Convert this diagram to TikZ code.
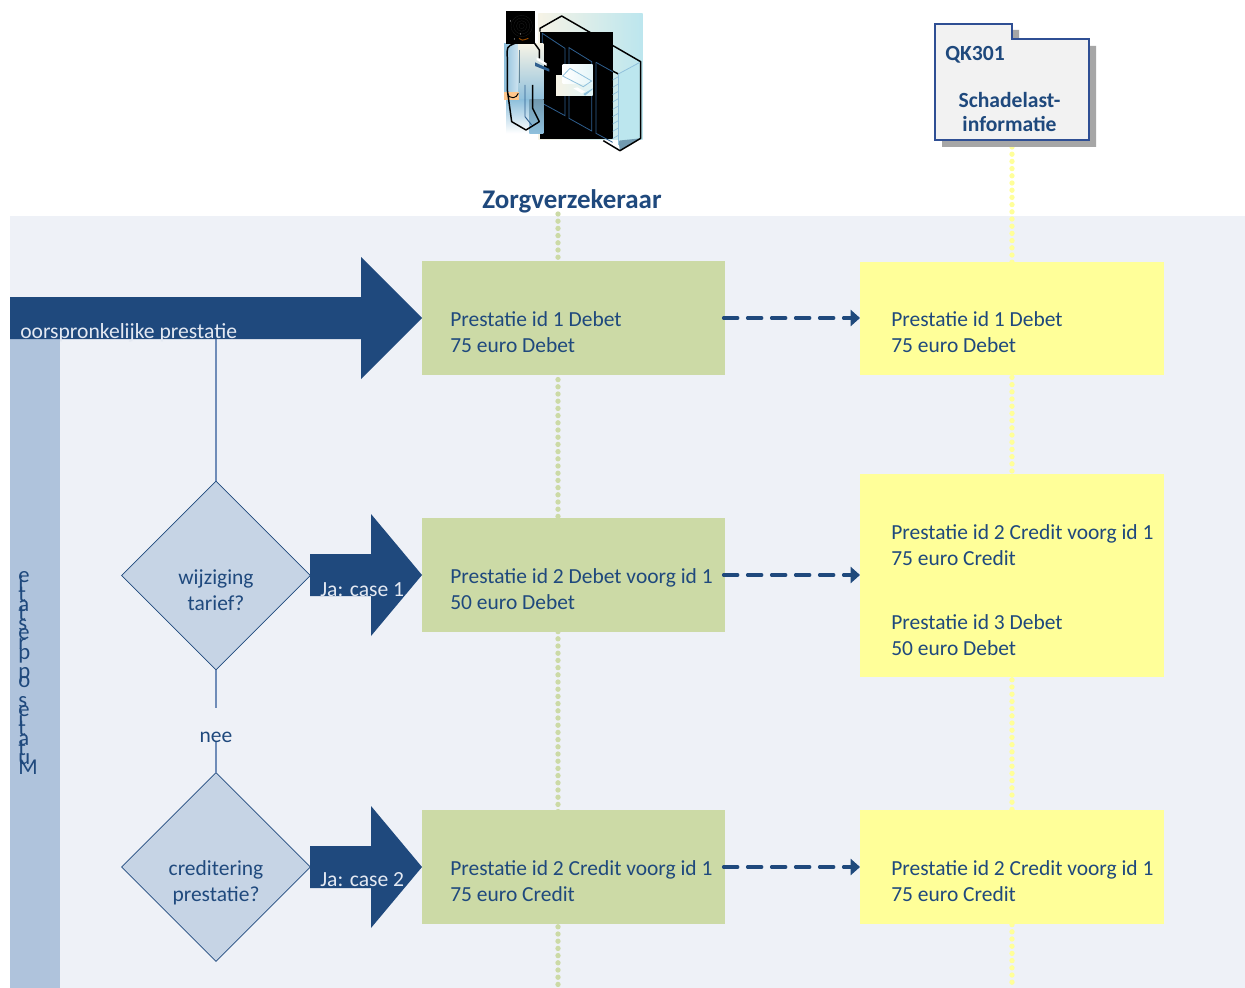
\documentclass[tikz,border=0pt]{standalone}
\usepackage{fontspec}
\setmainfont{Carlito}
\usetikzlibrary{shapes.geometric,arrows.meta}
\definecolor{navy}{HTML}{1F497D}
\definecolor{bgpanel}{HTML}{EEF1F7}
\definecolor{band}{HTML}{AFC3DC}
\definecolor{greenbox}{HTML}{CCDAA6}
\definecolor{yellowbox}{HTML}{FFFF99}
\definecolor{greendot}{HTML}{CCDAA6}
\definecolor{yellowdot}{HTML}{FFFF99}
\definecolor{diam}{HTML}{C6D4E5}
\definecolor{thinline}{HTML}{6F8CB8}
\definecolor{folderline}{HTML}{2F4F94}
\definecolor{armtext}{HTML}{E4E9F2}
\definecolor{skyc}{HTML}{BCE6EE}
\definecolor{cream}{HTML}{F6F3E6}
\definecolor{panelblue}{HTML}{2F5F8F}
\definecolor{bodyblue}{HTML}{8FC0DC}
\newcommand{\tl}[1]{\smash{#1}}
\tikzset{
 x=0.75pt,y=-0.75pt,
 greenb/.style={fill=greenbox,draw=none,minimum width=227.25pt,minimum height=85.5pt,inner sep=0,outer sep=0},
 yellowb/.style={fill=yellowbox,draw=none,minimum width=228pt,inner sep=0,outer sep=0},
 boxtext/.style={text=navy,font=\fontsize{16.1pt}{19.5pt}\selectfont,align=left,anchor=west,inner sep=0},
 decision/.style={diamond,aspect=1,fill=diam,draw=navy,line width=0.6pt,minimum width=141.5pt,minimum height=141.5pt,inner sep=0,outer sep=0,text=navy,align=center,font=\fontsize{16.1pt}{19.3pt}\selectfont},
 bigarrow/.style={fill=navy,draw=none},
 armlabel/.style={text=armtext,font=\fontsize{16.2pt}{19pt}\selectfont,anchor=west,inner sep=0},
 dashlink/.style={draw=navy,line width=2.6pt,line cap=round,dash pattern=on 10.5pt off 7.5pt,-{Triangle[length=7pt,width=12pt]},shorten <=-1pt},
 thin link/.style={draw=thinline,line width=0.8pt},
 greendots/.style={draw=greendot,line width=4pt,line cap=round,dash pattern=on 0pt off 5.4pt},
 yellowdots/.style={draw=yellowdot,line width=4pt,line cap=round,dash pattern=on 0pt off 5.4pt},
}
\begin{document}
\begin{tikzpicture}
\useasboundingbox (0,0) rectangle (1245,988);
\fill[white] (0,0) rectangle (1245,988);
\fill[bgpanel] (10,216) rectangle (1245,988);
\fill[band] (10,339) rectangle (60,988);

% lifelines
\coordinate (gtop) at (558,214); \coordinate (gbot) at (558,988);
\coordinate (ytop) at (1012,147); \coordinate (ybot) at (1012,988);
\draw[greendots] (gtop) -- (gbot);
\draw[yellowdots] (ytop) -- (ybot);

% boxes
\node[greenb] (g1) at (573.5,318) {};
\node[greenb] (g2) at (573.5,575) {};
\node[greenb] (g3) at (573.5,867) {};
\node[yellowb,minimum height=85pt] (y1) at (1012,318.5) {};
\node[yellowb,minimum height=152.25pt] (y2) at (1012,575.5) {};
\node[yellowb,minimum height=85.5pt] (y3) at (1012,867) {};

\node[boxtext] (t1) at (450,332) {Prestatie id 1 Debet\\75 euro Debet};
\node[boxtext] (t2) at (450,589) {Prestatie id 2 Debet voorg id 1\\50 euro Debet};
\node[boxtext] (t3) at (450,881) {Prestatie id 2 Credit voorg id 1\\75 euro Credit};
\node[boxtext] (t4) at (891,332) {Prestatie id 1 Debet\\75 euro Debet};
\node[boxtext] (t5) at (891,545) {Prestatie id 2 Credit voorg id 1\\75 euro Credit};
\node[boxtext] (t6) at (891,635) {Prestatie id 3 Debet\\50 euro Debet};
\node[boxtext] (t7) at (891,881) {Prestatie id 2 Credit voorg id 1\\75 euro Credit};

% dashed links
\draw[dashlink] (g1.east) -- (y1.west |- g1.east);
\draw[dashlink] (g2.east) -- (y2.west |- g2.east);
\draw[dashlink] (g3.east) -- (y3.west |- g3.east);

% decisions and thin connectors
\node[decision] (d1) at (216,575.5) {\mbox{}\\[13.5pt]wijziging\\tarief?};
\node[decision] (d2) at (216,867) {\mbox{}\\[15pt]creditering\\prestatie?};
\coordinate (a1base) at (216,339);
\coordinate (neetop) at (216,708);
\coordinate (neebot) at (216,741);
\draw[thin link] (a1base) -- (d1.north);
\draw[thin link] (d1.south) -- (neetop);
\draw[thin link] (neebot) -- (d2.north);
\node[text=navy,font=\fontsize{16.1pt}{19pt}\selectfont,inner sep=0] (nee) at (216,737) {nee};

% big arrows
\fill[bigarrow] (10,297) -- (361,297) -- (361,257) -- (422,318) -- (361,379) -- (361,339) -- (10,339) -- cycle;
\fill[bigarrow] (310,554) -- (371,554) -- (371,514) -- (422,575) -- (371,636) -- (371,596) -- (310,596) -- cycle;
\fill[bigarrow] (310,846) -- (371,846) -- (371,806) -- (422,867) -- (371,928) -- (371,888) -- (310,888) -- cycle;
\node[armlabel] (l1) at (20,333) {oorspronkelijke prestatie};
\node[armlabel] (l2) at (320,590) {Ja: case 1};
\node[armlabel] (l3) at (320,880) {Ja: case 2};

% side band label
\node[text=navy,align=left,anchor=north west,inner sep=0,font=\fontsize{17pt}{7.2pt}\selectfont] (side) at (18,582) {\tl{e}\\\tl{i}\\\tl{t}\\\tl{a}\\\tl{t}\\\tl{s}\\\tl{e}\\\tl{r}\\\tl{p}\\\tl{\mbox{}}\\\tl{p}\\\tl{o}\\\tl{\mbox{}}\\\tl{s}\\\tl{e}\\\tl{i}\\\tl{t}\\\tl{a}\\\tl{t}\\\tl{u}\\\tl{M}};

% title
\node[text=navy,font=\bfseries\fontsize{20.2pt}{24pt}\selectfont,inner sep=0] (title) at (572,201) {Zorgverzekeraar};

% folder
\fill[black!35] (942,30) -- (1019,30) -- (1019,46) -- (1096,46) -- (1096,147) -- (942,147) -- cycle;
\draw[draw=folderline,fill=black!5,line width=1.5pt] (935,24) -- (1012,24) -- (1012,39) -- (1089,39) -- (1089,140.5) -- (935,140.5) -- cycle;
\node[text=navy,font=\bfseries\fontsize{16.2pt}{18pt}\selectfont,anchor=west,inner sep=0] (qk) at (945,55) {QK301};
\node[text=navy,font=\bfseries\fontsize{16.2pt}{18pt}\selectfont,align=center,inner sep=0] (sl) at (1009.5,112) {Schadelast-\\informatie};

% server / person illustration (zoom coordinates: 3 units per pixel)
\begin{scope}[shift={(490,0)},x=0.25pt,y=-0.25pt]
\shade[left color=cream,right color=skyc] (145,40) rectangle (458,420);
\fill[skyc] (385,225) -- (452,185) -- (452,415) -- (390,452) -- cycle;
\fill[bodyblue!80!black] (385,422) -- (452,415) -- (390,452) -- cycle;
\fill[black] (150,97) rectangle (368,418);
\draw[black,line width=1.1pt,line join=round] (150,95) -- (150,85) -- (215,48) -- (452,185) -- (452,415) -- (390,452) -- (340,422);
\draw[black,line width=1.1pt] (368,213) -- (385,222);
\draw[bodyblue,line width=0.6pt] (385,222) -- (448,188);
\draw[bodyblue,line width=0.6pt] (385,222) -- (385,435);
\draw[panelblue,line width=0.6pt] (157,100) -- (225,145) -- (225,347) -- (157,310) -- cycle;
\draw[panelblue,line width=0.6pt] (237,143) -- (305,185) -- (305,393) -- (237,355) -- cycle;
\draw[panelblue,line width=0.6pt] (318,187) -- (368,215);
\draw[panelblue,line width=0.6pt] (318,187) -- (318,400) -- (368,427);
\foreach \yy in {240,262,284,306,328,350,372,394,416}{\draw[bodyblue,line width=0.5pt] (368,\yy) -- (385,\yy-10);}
\shade[left color=cream,right color=skyc!50!white] (198,228) rectangle (308,287);
\shade[left color=white,right color=skyc!40!white] (218,195) rectangle (308,250);
\draw[bodyblue,line width=0.6pt] (218,228) -- (240,205) -- (305,243) -- (280,260) -- cycle;
\fill[white] (250,265) -- (262,262) -- (285,275) -- (275,280) -- cycle;
\fill[bodyblue] (280,282) -- (308,265) -- (308,268) -- (285,287) -- cycle;
% person
\shade[left color=bodyblue,right color=white] (42,132) rectangle (118,300);
\shade[top color=cream,bottom color=bodyblue] (85,132) rectangle (160,300);
\shade[top color=bodyblue,bottom color=white] (48,300) rectangle (118,400);
\shade[top color=bodyblue!80!black,bottom color=bodyblue] (118,300) rectangle (160,400);
\fill[orange!45!white] (42,277) rectangle (88,300);
\fill[black] (48,33) rectangle (135,132);
\foreach \rr in {8,16,24,32}{\draw[black!88!white,line width=0.2pt] (95,78) circle (\rr);}
\fill[white] (61,63) circle (1.5);\fill[white] (91,102) circle (1.5);\fill[white] (73,117) circle (1.5);
\draw[orange!60!black,line width=0.7pt] (87,115) .. controls (97,122) .. (115,115);
\draw[black,line width=1.1pt,line join=round] (75,130) .. controls (50,140) .. (52,175) -- (52,270) -- (65,365) -- (108,390) -- (148,365) -- (128,325) -- (128,255);
\draw[black,line width=1.1pt] (130,125) -- (148,150) -- (148,175);
\draw[panelblue,line width=0.7pt] (105,255) -- (105,350) -- (125,375);
\draw[bodyblue!70!black,line width=0.6pt] (88,150) -- (88,250);
\fill[panelblue] (135,187) -- (178,207) -- (178,215) -- (135,198) -- cycle;
\fill[white] (140,172) -- (170,190) -- (170,198) -- (140,180) -- cycle;
\draw[black,line width=0.7pt] (52,280) .. controls (60,300) and (80,295) .. (85,280);
\end{scope}
\end{tikzpicture}
\end{document}
